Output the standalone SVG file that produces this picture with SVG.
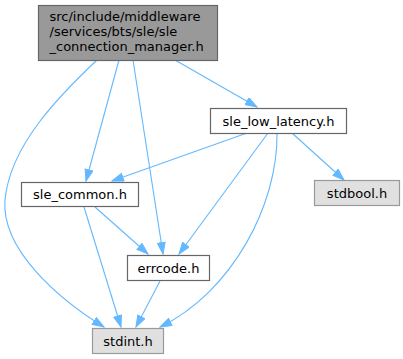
<svg xmlns="http://www.w3.org/2000/svg" width="403" height="359" viewBox="0 0 403 359">
<style>
text{font-family:"DejaVu Sans","Liberation Sans",sans-serif;font-size:13px;fill:#000}
.n rect{fill:#fff;stroke:#666;stroke-width:1.2}
.g rect{fill:#e0e0e0;stroke:#999;stroke-width:1.2}
.t rect{fill:#999;stroke:#666;stroke-width:1.2}
.c text{text-anchor:middle}
#edges path{fill:none;stroke:#63b8ff;stroke-width:1.1;marker-end:url(#ah)}
</style>
<defs>
<marker id="ah" markerUnits="userSpaceOnUse" markerWidth="13" markerHeight="10" refX="12" refY="4.5" orient="auto" viewBox="0 0 13 10">
<path d="M0.5,0.5 L12,4.5 L0.5,8.5 z" fill="#63b8ff" stroke="#63b8ff" stroke-width="1"/>
</marker>
</defs>
<rect width="403" height="359" fill="#fff"/>
<g id="edges">
<path d="M175,60 L257,107"/>
<path d="M119,60 L86,181"/>
<path d="M133,60 L163,254"/>
<path d="M97,60 C60,95 10,145 5,200 C1,250 60,300 104,327"/>
<path d="M247,133 L112,181"/>
<path d="M268,133 L179,254"/>
<path d="M277,133 C278,205 232,292 160,327"/>
<path d="M292,133 L344,180"/>
<path d="M95,207 L148,254"/>
<path d="M84,207 L121,327"/>
<path d="M160,281 L136,327"/>
</g>
<g id="node_top" class="t">
<rect x="38.5" y="5.5" width="179" height="55"/>
<text x="49.5" y="20.5">src/include/middleware</text>
<text x="49.5" y="35.5">/services/bts/sle/sle</text>
<text x="49.5" y="50.5">_connection_manager.h</text>
</g>
<g id="node_sle_low_latency" class="n c">
<rect x="210.5" y="108.5" width="136" height="25"/>
<text x="278.5" y="125.5">sle_low_latency.h</text>
</g>
<g id="node_sle_common" class="n c">
<rect x="21.5" y="182.5" width="117" height="24"/>
<text x="80" y="199">sle_common.h</text>
</g>
<g id="node_stdbool" class="g c">
<rect x="314.5" y="180.5" width="85" height="25"/>
<text x="357" y="197.5">stdbool.h</text>
</g>
<g id="node_errcode" class="n c">
<rect x="127.5" y="255.5" width="82" height="25"/>
<text x="168.5" y="272.5">errcode.h</text>
</g>
<g id="node_stdint" class="g c">
<rect x="92.5" y="328.5" width="71" height="25"/>
<text x="128" y="345.5">stdint.h</text>
</g>
</svg>
